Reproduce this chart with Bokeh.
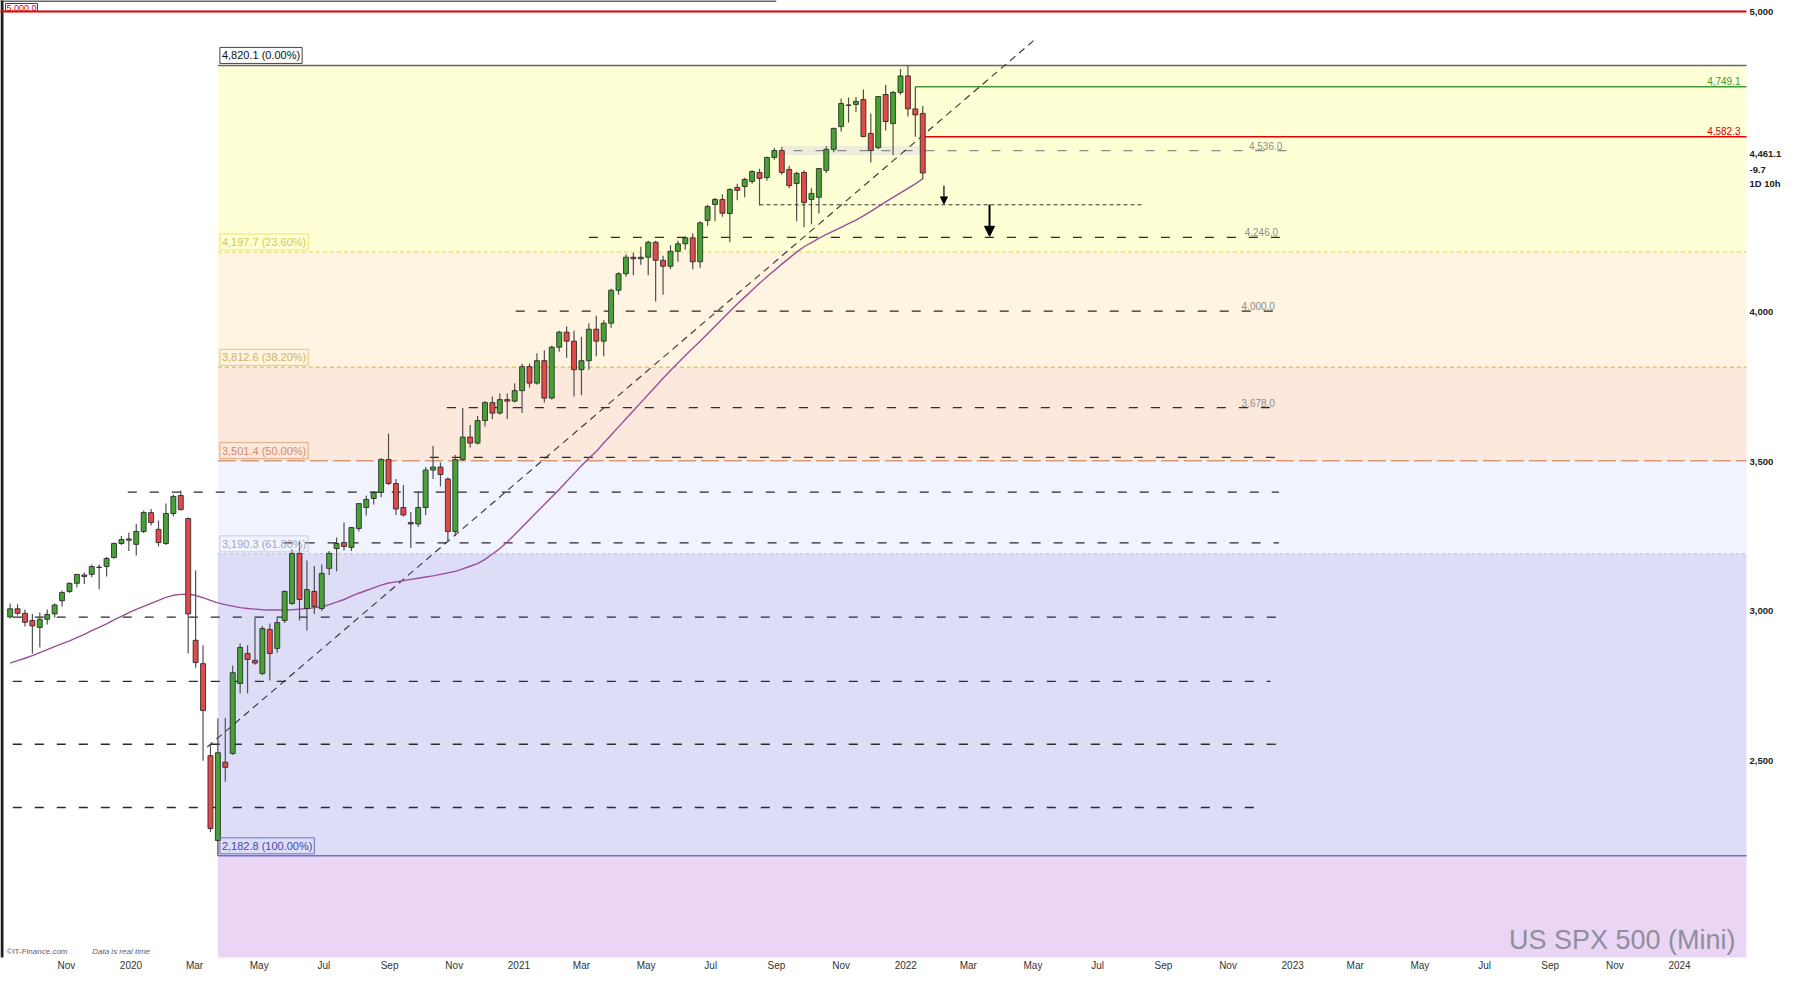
import pandas as pd
from bokeh.plotting import figure
from bokeh.models import (ColumnDataSource, Range1d, FixedTicker,
                          CustomJSTickFormatter, Label, Arrow, NormalHead)
from bokeh.embed import file_html
from bokeh.resources import INLINE

# ---------------- data (weekly candles, US SPX 500 Mini) ----------------
FIRST_WEEK = "2019-09-09"
OPEN = [2980, 3007, 2992, 2968, 2945, 2972, 2990, 3034, 3065, 3092, 3120, 3122, 3145, 3148, 3178, 3225, 3240,
        3222, 3265, 3328, 3272, 3225, 3325, 3385, 3308, 2902, 2824, 2517, 2234, 2495, 2524, 2758, 2858, 2835,
        2791, 2938, 2875, 2968, 3025, 3192, 3008, 3065, 3008, 3142, 3208, 3228, 3212, 3275, 3345, 3375, 3395,
        3505, 3425, 3345, 3295, 3290, 3345, 3470, 3480, 3440, 3265, 3505, 3580, 3560, 3635, 3695, 3660, 3705,
        3700, 3735, 3815, 3760, 3835, 3710, 3880, 3930, 3900, 3805, 3835, 3940, 3900, 3960, 4070, 4125, 4180,
        4175, 4180, 4230, 4170, 4150, 4200, 4225, 4245, 4165, 4303, 4356, 4373, 4326, 4413, 4416, 4433, 4463,
        4446, 4513, 4536, 4473, 4426, 4463, 4373, 4380, 4470, 4540, 4616, 4687, 4690, 4706, 4593, 4546, 4723,
        4626, 4730, 4785, 4675, 4660]
HIGH = [3025, 3022, 3005, 2990, 2995, 3005, 3025, 3068, 3095, 3122, 3128, 3155, 3155, 3180, 3228, 3250, 3262,
        3290, 3335, 3340, 3302, 3358, 3388, 3402, 3312, 3135, 2885, 2557, 2641, 2643, 2818, 2891, 2885, 2978,
        2950, 2958, 2980, 3068, 3205, 3232, 3168, 3150, 3155, 3200, 3245, 3295, 3280, 3360, 3385, 3400, 3510,
        3592, 3440, 3420, 3330, 3400, 3480, 3550, 3495, 3445, 3520, 3677, 3620, 3650, 3700, 3715, 3725, 3725,
        3760, 3825, 3825, 3860, 3870, 3885, 3935, 3950, 3935, 3915, 3960, 3985, 3970, 4075, 4130, 4190, 4195,
        4215, 4235, 4235, 4185, 4220, 4235, 4250, 4260, 4300, 4355, 4378, 4390, 4410, 4425, 4445, 4470, 4475,
        4515, 4545, 4548, 4485, 4465, 4470, 4410, 4478, 4550, 4612, 4710, 4713, 4715, 4740, 4660, 4718, 4756,
        4735, 4808, 4820.1, 4749.1, 4685]
LOW = [2975, 2985, 2948, 2858, 2878, 2955, 2978, 3015, 3060, 3078, 3090, 3112, 3072, 3115, 3175, 3220, 3200,
       3185, 3260, 3285, 3215, 3220, 3315, 3335, 2858, 2810, 2500, 2262, 2182.8, 2430, 2520, 2724, 2724, 2820,
       2785, 2768, 2860, 2960, 3020, 2968, 2935, 2990, 3000, 3120, 3132, 3202, 3200, 3265, 3318, 3355, 3380,
       3420, 3320, 3315, 3210, 3280, 3320, 3440, 3415, 3230, 3250, 3500, 3545, 3555, 3615, 3640, 3655, 3640,
       3695, 3660, 3745, 3755, 3695, 3705, 3865, 3845, 3715, 3720, 3805, 3850, 3850, 3945, 4055, 4115, 4120,
       4155, 4120, 4032, 4055, 4140, 4165, 4205, 4140, 4145, 4285, 4300, 4315, 4230, 4370, 4380, 4425, 4353,
       4435, 4505, 4455, 4410, 4300, 4280, 4290, 4326, 4460, 4530, 4600, 4630, 4665, 4580, 4496, 4540, 4603,
       4520, 4722, 4650, 4582.3, 4440]
CLOSE = [3007, 2992, 2962, 2950, 2972, 2988, 3020, 3061, 3092, 3122, 3115, 3148, 3146, 3175, 3225, 3238, 3236,
         3265, 3328, 3295, 3228, 3325, 3382, 3338, 2990, 2828, 2668, 2274, 2527, 2478, 2794, 2878, 2838, 2826,
         2941, 2858, 2961, 3065, 3192, 3038, 3071, 3015, 3125, 3192, 3225, 3215, 3278, 3358, 3372, 3395, 3505,
         3425, 3340, 3320, 3290, 3345, 3470, 3480, 3455, 3265, 3505, 3580, 3560, 3635, 3695, 3660, 3705, 3700,
         3735, 3815, 3760, 3835, 3710, 3880, 3930, 3900, 3805, 3835, 3940, 3900, 3960, 4070, 4125, 4180, 4175,
         4180, 4230, 4170, 4150, 4200, 4225, 4245, 4165, 4295, 4349, 4373, 4327, 4406, 4403, 4440, 4466, 4443,
         4513, 4536, 4463, 4419, 4460, 4363, 4393, 4476, 4540, 4610, 4693, 4688, 4700, 4583, 4536, 4716, 4633,
         4730, 4785, 4675, 4655, 4461.1]
MA = [2826, 2834, 2842, 2851, 2861, 2871, 2881, 2891, 2900, 2911, 2922, 2934, 2945, 2957, 2970, 2982, 2994,
      3005, 3015, 3025, 3035, 3045, 3052, 3055, 3056, 3052, 3044, 3035, 3027, 3021, 3016, 3011, 3008, 3006,
      3004, 3003, 3003, 3003, 3004, 3006, 3008, 3011, 3014, 3021, 3029, 3038, 3049, 3059, 3068, 3077, 3086,
      3093, 3097, 3101, 3105, 3109, 3113, 3117, 3122, 3127, 3132, 3140, 3149, 3158, 3172, 3190, 3208, 3230,
      3255, 3280, 3305, 3330, 3355, 3380, 3405, 3432, 3458, 3484, 3509, 3532, 3560, 3587, 3614, 3641, 3668,
      3695, 3722, 3749, 3776, 3802, 3827, 3852, 3876, 3900, 3925, 3950, 3975, 4000, 4024, 4047, 4070, 4093,
      4115, 4136, 4157, 4177, 4197, 4215, 4229, 4243, 4256, 4268, 4280, 4292, 4304, 4318, 4333, 4349, 4365,
      4380, 4395, 4410, 4425, 4442]

FIB_START = "2020-03-23"
FIB_VALUES = [4820.1, 4197.7, 3812.6, 3501.4, 3190.3, 2182.8]
FIB_TEXT = ["4,820.1 (0.00%)", "4,197.7 (23.60%)", "3,812.6 (38.20%)", "3,501.4 (50.00%)",
            "3,190.3 (61.80%)", "2,182.8 (100.00%)"]

LEVELS = [4536.0, 4246.0, 4000.0, 3678.0, 3512.0, 3396.0, 3227.0, 2979.0, 2765.0, 2555.0, 2344.0]
LEVEL_FROM = ["2021-09-17", "2021-03-08", "2020-12-29", "2020-10-25", "2020-10-09", "2019-12-29",
              "2020-05-24", "2019-08-01", "2019-08-01", "2019-08-01", "2019-08-01"]
LEVEL_TO = ["2022-12-26", "2022-12-22", "2022-12-19", "2022-12-19", "2022-12-19", "2022-12-19",
            "2022-12-19", "2022-12-27", "2022-12-11", "2022-12-27", "2022-12-04"]
LEVEL_TEXT = ["4,536.0", "4,246.0", "4,000.0", "3,678.0"]

DOTTED_LEVEL = 4355.0
DOTTED_SPAN = ["2021-08-16", "2022-08-13"]
RESIST_LEVEL = 5000.0
HIGH_LEVEL, HIGH_FROM = 4749.1, "2022-01-10"
LOW_LEVEL, LOW_FROM = 4582.3, "2022-01-17"
ZONE = [4521.0, 4552.0]
ZONE_SPAN = ["2021-09-05", "2022-01-17"]
TREND_DATES = ["2020-03-13", "2022-05-04"]
TREND_VALUES = [2546, 4910]
ARROW_DATES = ["2022-02-06", "2022-03-21"]
ARROW_FROM = [4419, 4356]
ARROW_TO = [4358, 4250]

Y_TICKS = [2500, 3000, 3500, 4000, 5000]
TAG_TEXT = ["4,461.1", "-9.7", "1D 10h"]
MONTH_NAMES = ["Jan", "Feb", "Mar", "Apr", "May", "Jun", "Jul", "Aug", "Sep", "Oct", "Nov", "Dec"]
X_TICK_FIRST, X_TICK_LAST = "2019-11-01", "2024-01-01"

# ---------------- geometry helpers (pixel -> data) ----------------
DAY = 86400000.0
W, H = 1784, 973
RIGHT, BOTTOM = 33, 16


def ms(s):
    return pd.Timestamp(s).value / 1e6


def refx(px):
    return ms("2020-03-23") + (px - 218.0) / 1.063 * DAY


def refy(py):
    return 5000.0 - (py - 11.0) / 0.2997


dates = pd.date_range(FIRST_WEEK, periods=len(OPEN), freq="7D")
GREEN, RED = "#46A235", "#E24A4A"
src = ColumnDataSource(dict(
    date=dates, open=OPEN, high=HIGH, low=LOW, close=CLOSE,
    top=[max(o, c) for o, c in zip(OPEN, CLOSE)],
    bottom=[min(o, c) for o, c in zip(OPEN, CLOSE)],
    color=[GREEN if c >= o else RED for o, c in zip(OPEN, CLOSE)],
))

x0, x1 = refx(0), refx(W - RIGHT)
y0, y1 = refy(H - BOTTOM), refy(0)
p = figure(width=W, height=H, x_axis_type="datetime", y_axis_location="right",
           x_range=Range1d(x0, x1), y_range=Range1d(y0, y1),
           output_backend="svg", toolbar_location=None,
           min_border_left=0, min_border_top=0, min_border_right=RIGHT, min_border_bottom=BOTTOM,
           background_fill_color="white", border_fill_color="white")
p.outline_line_color = None
p.grid.visible = False

FONT = "Liberation Sans"
# right axis, with the live price tags
tag_pos = [refy(152.7), refy(168.8), refy(183.0)]
p.yaxis.ticker = FixedTicker(ticks=Y_TICKS + tag_pos)
p.yaxis.formatter = CustomJSTickFormatter(args=dict(vals=tag_pos, texts=TAG_TEXT), code="""
for (let i = 0; i < vals.length; i++) {
  if (Math.abs(tick - vals[i]) < 0.01) return texts[i];
}
return Math.round(tick).toLocaleString("en-US");
""")
p.yaxis.major_label_text_font = FONT
p.yaxis.major_label_text_font_size = "9.5px"
p.yaxis.major_label_text_font_style = "bold"
p.yaxis.major_label_text_color = "#222222"
p.yaxis.axis_line_color = None
p.yaxis.major_tick_line_color = None
p.yaxis.minor_tick_line_color = None
p.yaxis.major_tick_out = 0
p.yaxis.major_tick_in = 0
p.yaxis.minor_tick_out = 0
p.yaxis.major_label_standoff = 3

month_ticks = [ms(d) for d in pd.date_range(X_TICK_FIRST, X_TICK_LAST, freq="2MS")]
p.xaxis.ticker = FixedTicker(ticks=month_ticks)
p.xaxis.formatter = CustomJSTickFormatter(args=dict(names=MONTH_NAMES), code="""
const d = new Date(tick);
const m = d.getUTCMonth();
return m == 0 ? String(d.getUTCFullYear()) : names[m];
""")
p.xaxis.major_label_text_font = FONT
p.xaxis.major_label_text_font_size = "10px"
p.xaxis.major_label_text_color = "#333333"
p.xaxis.axis_line_color = None
p.xaxis.major_tick_line_color = None
p.xaxis.minor_tick_line_color = None
p.xaxis.major_tick_out = 0
p.xaxis.major_tick_in = 0
p.xaxis.minor_tick_out = 0
p.xaxis.major_label_standoff = 2

# fibonacci bands
fl = ms(FIB_START)
xr = x1 + 30 * DAY
band_bottoms = FIB_VALUES[1:] + [1500.0]
band_colors = ["#FFFFD6", "#FFF3E1", "#FDE8DC", "#F1F3FE", "#DDDDF8", "#EAD6F4"]
p.quad(left=[fl] * 6, right=[xr] * 6, bottom=band_bottoms, top=FIB_VALUES,
       fill_color=band_colors, line_color=None)

# gray zone
p.quad(left=[ms(ZONE_SPAN[0])], right=[ms(ZONE_SPAN[1])], bottom=[ZONE[0]], top=[ZONE[1]],
       fill_color="#EDEDDA", line_color=None)

fib_line_colors = ["#666666", "#ECE270", "#E6C672", "#D89A78", "#C4C8E2", "#7070C4"]
fib_dash = ["solid", "4 3", "4 3", "18 5", "3 3", "solid"]
fib_text_colors = ["#111111", "#D4CC48", "#D2B266", "#D08C6C", "#A4A6C0", "#4848A0"]
fib_box_colors = ["#444444", "#ECE070", "#E6C682", "#E0A888", "#C8CCE6", "#7070C4"]
for v, c, d in zip(FIB_VALUES, fib_line_colors, fib_dash):
    p.segment(x0=[fl], y0=[v], x1=[xr], y1=[v], line_color=c, line_width=1.5, line_dash=d)
for v, t, tc, bc in zip(FIB_VALUES, FIB_TEXT, fib_text_colors, fib_box_colors):
    p.add_layout(Label(x=fl, y=v, text=t, text_font=FONT, text_font_size="11px", text_color=tc,
                       text_baseline="bottom", text_align="left", x_offset=2, y_offset=2,
                       padding=2, border_line_color=bc, border_line_width=1))

# window frame marks: dark left edge and top rule
p.segment(x0=[refx(1.5)], y0=[1000], x1=[refx(1.5)], y1=[6000], line_color="#1E1E1E", line_width=3)
p.segment(x0=[x0 - 30 * DAY], y0=[refy(0.6)], x1=[refx(778)], y1=[refy(0.6)],
          line_color="#333333", line_width=1.5)

# resistance 5000
p.segment(x0=[x0 - 30 * DAY], y0=[RESIST_LEVEL], x1=[xr], y1=[RESIST_LEVEL],
          line_color="#E00000", line_width=2)
p.add_layout(Label(x=refx(5), y=RESIST_LEVEL, text="5,000.0", text_font=FONT, text_font_size="9px",
                   text_color="#D00000", text_baseline="bottom", y_offset=0, padding=1,
                   border_line_color="#E00000"))

# horizontal support/resistance levels
for i, (v, a, b) in enumerate(zip(LEVELS, LEVEL_FROM, LEVEL_TO)):
    col = "#8A8A8A" if i == 0 else "#2A2A2A"
    p.segment(x0=[ms(a)], y0=[v], x1=[ms(b)], y1=[v], line_color=col, line_width=1.3, line_dash="9 13")
for v, b, t in zip(LEVELS, LEVEL_TO, LEVEL_TEXT):
    p.add_layout(Label(x=ms(b), y=v, text=t, text_font=FONT, text_font_size="10px", text_color="#8C8C8C",
                       text_align="right", text_baseline="bottom", x_offset=-4, y_offset=1))

p.segment(x0=[ms(DOTTED_SPAN[0])], y0=[DOTTED_LEVEL], x1=[ms(DOTTED_SPAN[1])], y1=[DOTTED_LEVEL],
          line_color="#333333", line_width=1, line_dash="4 3")

# last-week high/low lines
p.segment(x0=[ms(HIGH_FROM)], y0=[HIGH_LEVEL], x1=[xr], y1=[HIGH_LEVEL],
          line_color="#3E9A36", line_width=1.6)
p.segment(x0=[ms(LOW_FROM)], y0=[LOW_LEVEL], x1=[xr], y1=[LOW_LEVEL],
          line_color="#E00000", line_width=1.6)
p.add_layout(Label(x=refx(1745), y=HIGH_LEVEL, text="4,749.1", text_font=FONT, text_font_size="10px",
                   text_color="#3E9A36", text_align="right", text_baseline="bottom", y_offset=2))
p.add_layout(Label(x=refx(1745), y=LOW_LEVEL, text="4,582.3", text_font=FONT, text_font_size="10px",
                   text_color="#D00000", text_align="right", text_baseline="bottom", y_offset=2))

# trend line
p.line(x=[ms(d) for d in TREND_DATES], y=TREND_VALUES, line_color="#333333", line_width=1.1,
       line_dash="7 5")

# moving average
p.line(x=dates, y=MA, line_color="#9A4E9A", line_width=1.4)

# candles
p.segment(x0="date", y0="high", x1="date", y1="low", source=src, line_color="#505050", line_width=1.2)
p.vbar(x="date", width=4.7 * DAY, top="top", bottom="bottom", fill_color="color",
       line_color="#202020", line_width=0.8, source=src)

# arrows
for d, a, b, w, s in zip(ARROW_DATES, ARROW_FROM, ARROW_TO, [1.2, 2.0], [7, 10]):
    p.add_layout(Arrow(end=NormalHead(size=s, fill_color="black", line_color="black"),
                       x_start=ms(d), y_start=a, x_end=ms(d), y_end=b,
                       line_color="black", line_width=w))

# watermark and credits
p.add_layout(Label(x=refx(1740), y=refy(954), text="US SPX 500 (Mini)", text_font=FONT,
                   text_font_size="27px", text_color="#8E8E9C", text_align="right",
                   text_baseline="bottom"))
p.add_layout(Label(x=refx(6), y=refy(955), text="\u00a9IT-Finance.com", text_font=FONT,
                   text_font_size="8px", text_color="#606070", text_baseline="bottom"))
p.add_layout(Label(x=refx(92), y=refy(955), text="Data is real time", text_font=FONT,
                   text_font_size="8px", text_font_style="italic", text_color="#606070",
                   text_baseline="bottom"))

open("out.html", "w").write(file_html(p, INLINE))
